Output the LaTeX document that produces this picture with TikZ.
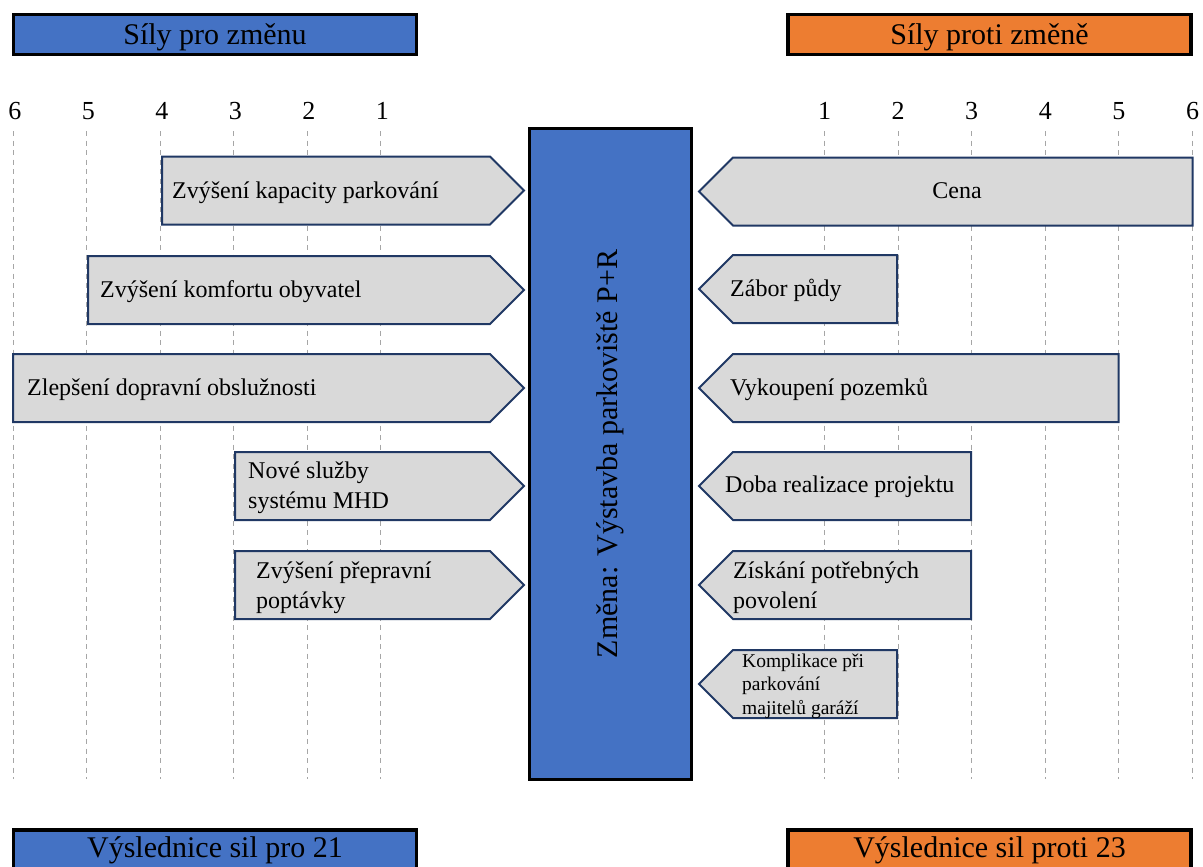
\documentclass[tikz,border=0pt]{standalone}
\usepackage{fontspec}
\setmainfont{Liberation Serif}
\definecolor{pblue}{HTML}{4472C4}
\definecolor{porange}{HTML}{ED7D31}
\definecolor{agray}{HTML}{D9D9D9}
\definecolor{anavy}{HTML}{203864}
\definecolor{dgray}{HTML}{A6A6A6}
\begin{document}
\begin{tikzpicture}[x=1pt,y=-1pt,
  hdr/.style={draw=black, line width=3.5pt, minimum width=403pt, minimum height=40pt, inner sep=0pt},
  hdrtext/.style={inner sep=0pt, font=\fontsize{30}{36}\selectfont},
  num/.style={font=\fontsize{26}{30}\selectfont, inner sep=0pt},
  gridline/.style={dgray, line width=1pt, dash pattern=on 5pt off 4.5pt},
  arrowshape/.style={fill=agray, draw=anavy, line width=2pt, line join=miter},
  lab/.style={anchor=west, align=left, inner sep=0pt, font=\fontsize{24}{30}\selectfont},
  smalllab/.style={anchor=west, align=left, inner sep=0pt, font=\fontsize{19.5}{23.5}\selectfont},
  changebox/.style={draw=black, fill=pblue, line width=3pt, minimum width=162pt, minimum height=651pt, inner sep=0pt},
]
\useasboundingbox (0,0) rectangle (1203,867);
\clip (0,0) rectangle (1203,867);
\fill[white] (0,0) rectangle (1203,867);

% headers
\node[hdr, fill=pblue] (hdrpro) at (215,34.5) {};
\node[hdrtext] (hdrprotext) at (215,37.5) {Síly pro změnu};
\node[hdr, fill=porange] (hdrproti) at (989.5,34.5) {};
\node[hdrtext] (hdrprotitext) at (989.5,37.5) {Síly proti změně};
\node[hdr, fill=pblue] (respro) at (215,849.75) {};
\node[hdrtext] (resprotext) at (215,850) {Výslednice sil pro 21};
\node[hdr, fill=porange] (resproti) at (989.5,849.75) {};
\node[hdrtext] (resprotitext) at (989.5,850) {Výslednice sil proti 23};

% scales and dashed guide lines
\foreach \k in {1,...,6} {
  \pgfmathsetmacro{\xl}{380.8-(\k-1)*73.5}
  \pgfmathsetmacro{\xr}{824.5+(\k-1)*73.6}
  \draw[gridline] (\xl,131) -- (\xl,779);
  \draw[gridline] (\xr,131) -- (\xr,779);
  \node[num] (ln\k) at (\xl+1.5,111) {\k};
  \node[num] (rn\k) at (\xr,111) {\k};
}

% left arrows (forces for change)
\foreach \xa/\yc in {162/190.5, 88/290, 13/388, 235/486, 235/585} {
  \draw[arrowshape] (\xa,\yc-34) -- (490,\yc-34) -- (524,\yc) -- (490,\yc+34) -- (\xa,\yc+34) -- cycle;
}
% right arrows (forces against change)
\foreach \xa/\yc in {1192.5/191.5, 897/289, 1118.5/388, 971/486, 971/585, 897/684} {
  \draw[arrowshape] (699,\yc) -- (733,\yc-34) -- (\xa,\yc-34) -- (\xa,\yc+34) -- (733,\yc+34) -- cycle;
}

% central change box
\node[changebox] (change) at (610.5,454) {};
\node[rotate=90, font=\fontsize{30}{36}\selectfont, inner sep=0pt] (changetext) at (change.center) {Změna: Výstavba parkoviště P+R};

% labels left
\node[lab] (l1) at (172,192.5) {Zvýšení kapacity parkování};
\node[lab] (l2) at (100,292) {Zvýšení komfortu obyvatel};
\node[lab] (l3) at (27,390) {Zlepšení dopravní obslužnosti};
\node[lab] (l4) at (248,488) {Nové služby\\systému MHD};
\node[lab] (l5) at (256,588) {Zvýšení přepravní\\poptávky};

% labels right
\node[lab, anchor=center] (r1) at (957,190.5) {Cena};
\node[lab] (r2) at (730,290) {Zábor půdy};
\node[lab] (r3) at (730,389) {Vykoupení pozemků};
\node[lab] (r4) at (725,487) {Doba realizace projektu};
\node[lab] (r5) at (733,588) {Získání potřebných\\povolení};
\node[smalllab] (r6) at (742,686) {Komplikace při\\parkování\\majitelů garáží};
\end{tikzpicture}
\end{document}
